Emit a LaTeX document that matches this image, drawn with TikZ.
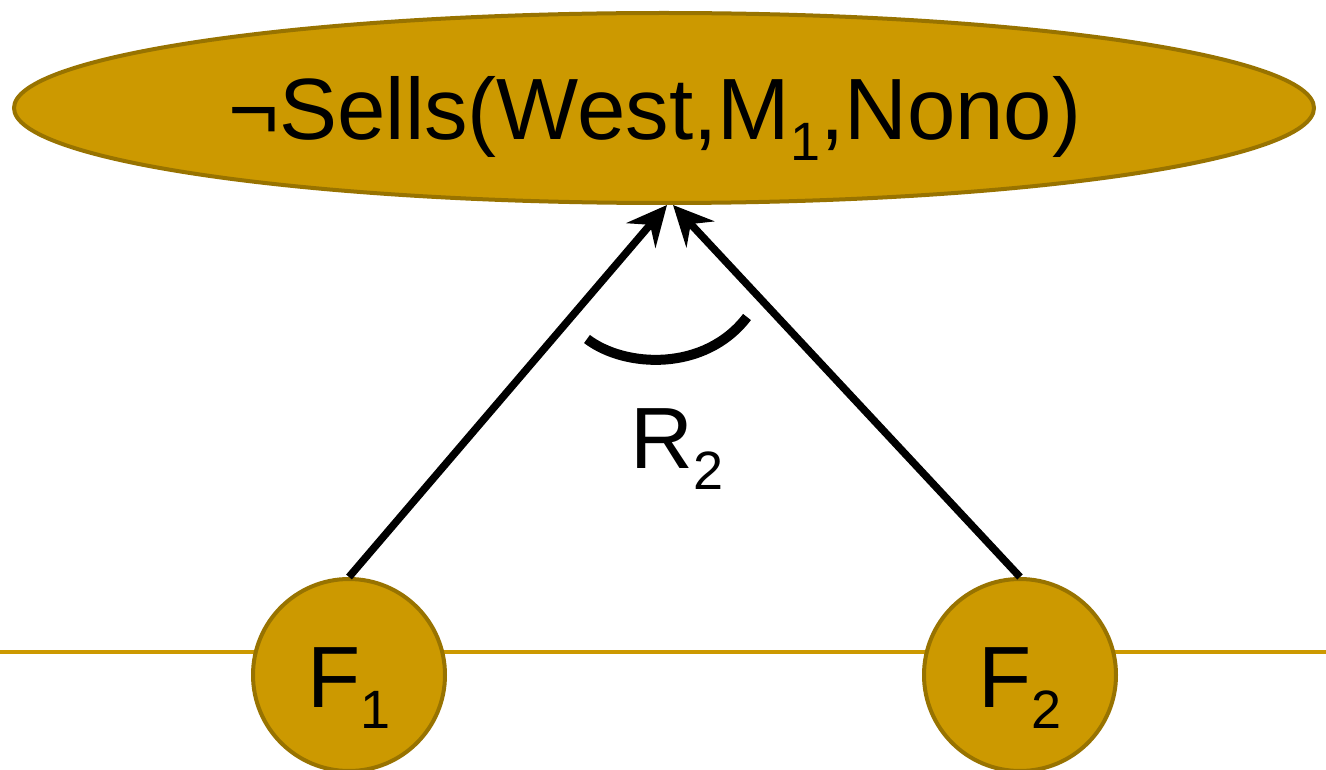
\documentclass[tikz,border=0pt]{standalone}
\usepackage{fontspec}
\setmainfont{Liberation Sans}
\usetikzlibrary{arrows.meta,shapes.geometric}
\definecolor{gold}{HTML}{CC9900}
\definecolor{goldedge}{HTML}{987300}
\newcommand{\subtxt}[1]{\raisebox{-21pt}{\fontsize{54}{60}\selectfont #1}}
\tikzset{
  bigtext/.style={font=\fontsize{87}{100}\selectfont, text height=64pt, text depth=0pt, inner sep=0pt},
  goalnode/.style={ellipse, draw=goldedge, line width=4pt, fill=gold, minimum width=1300pt, minimum height=190pt, inner sep=0pt, bigtext},
  factnode/.style={circle, draw=goldedge, line width=4pt, fill=gold, minimum size=192pt, inner sep=0pt, bigtext},
  proofarrow/.style={line width=7.5pt, -{Stealth[length=40pt, width=38pt, inset=14pt]}},
  arcline/.style={line width=10pt},
  baseline/.style={gold, line width=3.5pt}
}
\begin{document}
\begin{tikzpicture}[x=1pt,y=-1pt]
\useasboundingbox (0,0) rectangle (1326,770);
\draw[baseline] (0,652) coordinate (bl) -- (1326,652) coordinate (br);
\node[goalnode] (goal) at (664,108) {\hspace*{-18pt}¬Sells(West,M\subtxt{1},Nono)};
\node[factnode] (f1) at (349,675) {F\subtxt{1}};
\node[factnode] (f2) at (1020,675) {F\subtxt{2}};
\coordinate (tipl) at (667,205);
\coordinate (tipr) at (673,205);
\draw[proofarrow] (f1.north) -- (tipl);
\draw[proofarrow] (f2.north) -- (tipr);
\coordinate (arcs) at (587,339);
\coordinate (arce) at (747,317);
\draw[arcline] (arcs) .. controls (625,368) and (705,372) .. (arce);
\node[bigtext] (rlabel) at (677,436) {R\subtxt{2}};
\end{tikzpicture}
\end{document}
